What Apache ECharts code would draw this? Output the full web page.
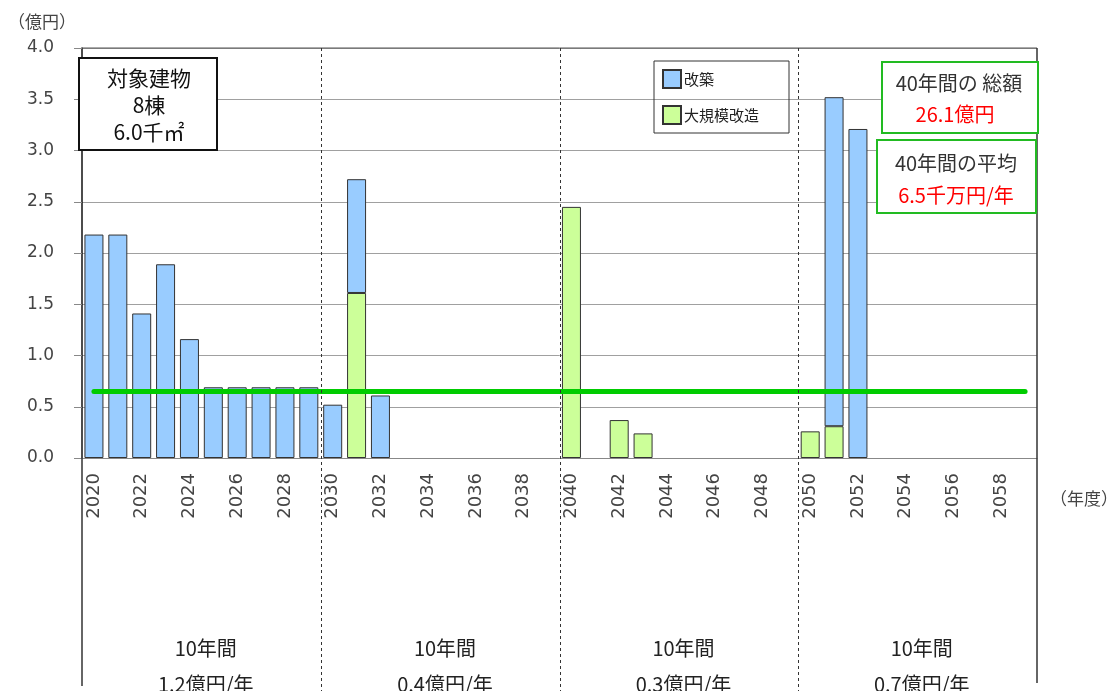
<!DOCTYPE html>
<html>
<head>
<meta charset="utf-8">
<script src="https://cdn.jsdelivr.net/npm/echarts@6/dist/echarts.min.js"></script>
<style>
  html, body { margin: 0; padding: 0; background: #fff; }
  #chart { width: 1113px; height: 691px; }
</style>
</head>
<body>
<div id="chart"></div>
<script>
// 年度 2020〜2059
const years = Array.from({ length: 40 }, (_, i) => String(2020 + i))

// 改築（億円）
const kaichiku = [
  2.18, 2.18, 1.41, 1.89, 1.16, 0.69, 0.69, 0.69, 0.69, 0.69,
  0.52, 1.11, 0.61, null, null, null, null, null, null, null,
  null, null, null, null, null, null, null, null, null, null,
  null, 3.21, 3.21, null, null, null, null, null, null, null
]

// 大規模改造（億円）
const daikibo = [
  null, null, null, null, null, null, null, null, null, null,
  null, 1.61, null, null, null, null, null, null, null, null,
  2.45, null, 0.37, 0.24, null, null, null, null, null, null,
  0.26, 0.31, null, null, null, null, null, null, null, null
]

// 40年間の平均（億円/年）
const average = 0.65

// 10年ごとの平均
const decadeLabels = ['1.2億円/年', '0.4億円/年', '0.3億円/年', '0.7億円/年']

const jp = '"Noto Sans CJK JP", sans-serif'
const num = '"DejaVu Sans", sans-serif'

const chart = echarts.init(document.getElementById('chart'))

const option = {
  animation: false,
  grid: { left: 82, right: 76, top: 48, bottom: 233 },
  legend: {
    data: ['改築', '大規模改造'],
    orient: 'vertical',
    left: 654,
    top: 61,
    itemWidth: 18,
    itemHeight: 18,
    itemGap: 16,
    padding: [8, 30, 8, 8],
    borderColor: '#333',
    borderWidth: 1,
    icon: 'rect',
    selectedMode: false,
    textStyle: { fontFamily: jp, fontSize: 15, color: '#222', padding: [0, 0, 0, -2] }
  },
  xAxis: {
    type: 'category',
    data: years,
    axisLine: { lineStyle: { color: '#888' } },
    axisTick: { interval: 0, length: 5, lineStyle: { color: '#888' } },
    axisLabel: {
      interval: 1,
      rotate: 90,
      margin: 15,
      fontFamily: num,
      fontSize: 18,
      color: '#444'
    }
  },
  yAxis: {
    type: 'value',
    min: 0,
    max: 4,
    interval: 0.5,
    axisLine: { show: true, lineStyle: { color: '#111', width: 1.5 } },
    axisTick: { show: true, length: 8, lineStyle: { color: '#888' } },
    splitLine: { lineStyle: { color: '#a0a0a0' } },
    axisLabel: {
      margin: 28,
      fontFamily: num,
      fontSize: 17,
      color: '#444',
      formatter: v => v.toFixed(1)
    }
  },
  series: [
    {
      name: '大規模改造',
      type: 'bar',
      stack: 'cost',
      barWidth: 19,
      data: daikibo,
      itemStyle: { color: '#ccff99', borderColor: '#333', borderWidth: 1 }
    },
    {
      name: '改築',
      type: 'bar',
      stack: 'cost',
      barWidth: 19,
      data: kaichiku,
      itemStyle: { color: '#99ccff', borderColor: '#333', borderWidth: 1 },
      markLine: {
        silent: true,
        symbol: 'none',
        label: { show: false },
        lineStyle: { color: '#00cc00', width: 5, type: 'solid', cap: 'round' },
        data: [[
          { coord: [years[0], average] },
          { coord: [years[years.length - 1], average] }
        ]]
      }
    }
  ]
}

chart.setOption(option)

// 枠線・区切り線・注記
const px = c => chart.convertToPixel({ xAxisIndex: 0 }, c)
const plotTop = chart.convertToPixel({ yAxisIndex: 0 }, 4)
const plotLeft = 82
const plotRight = 1037

const graphics = []

// 上端・右端・左端の延長
graphics.push({ type: 'line', shape: { x1: plotLeft, y1: plotTop, x2: plotRight, y2: plotTop }, style: { stroke: '#555', lineWidth: 1 }, z: 5 })
graphics.push({ type: 'line', shape: { x1: plotRight, y1: plotTop, x2: plotRight, y2: 683 }, style: { stroke: '#333', lineWidth: 1.5 }, z: 5 })
graphics.push({ type: 'line', shape: { x1: plotLeft, y1: 458, x2: plotLeft, y2: 686 }, style: { stroke: '#333', lineWidth: 1.5 }, z: 5 })

// 10年ごとの点線
const bounds = [plotLeft]
;[10, 20, 30].forEach(i => {
  const x = Math.round((px(years[i - 1]) + px(years[i])) / 2) + 0.5
  bounds.push(x)
  graphics.push({
    type: 'line',
    shape: { x1: x, y1: plotTop, x2: x, y2: 691 },
    style: { stroke: '#333', lineWidth: 1, lineDash: [3, 3] },
    z: 5
  })
})
bounds.push(plotRight)

decadeLabels.forEach((t, i) => {
  const cx = (bounds[i] + bounds[i + 1]) / 2 + 4
  graphics.push({ type: 'text', x: cx, y: 648, style: { text: '10年間', fontFamily: jp, fontSize: 20, fill: '#222', align: 'center', verticalAlign: 'middle' } })
  graphics.push({ type: 'text', x: cx, y: 684, style: { text: t, fontFamily: jp, fontSize: 20, fill: '#222', align: 'center', verticalAlign: 'middle' } })
})

// 軸名
graphics.push({ type: 'text', x: 8, y: 22, style: { text: '（億円）', fontFamily: jp, fontSize: 17, fill: '#444', verticalAlign: 'middle' } })
graphics.push({ type: 'text', x: 1050, y: 499, style: { text: '（年度）', fontFamily: jp, fontSize: 17, fill: '#444', verticalAlign: 'middle' } })

// 対象建物
graphics.push({ type: 'rect', shape: { x: 79, y: 58, width: 138, height: 92 }, style: { fill: '#fff', stroke: '#111', lineWidth: 2 }, z: 10 })
graphics.push({ type: 'text', x: 149, y: 105, z: 11, style: { text: '対象建物\n8棟\n6.0千㎡', fontFamily: jp, fontSize: 21, lineHeight: 27, fill: '#111', align: 'center', verticalAlign: 'middle' } })

// 40年間の総額
graphics.push({ type: 'rect', shape: { x: 882, y: 62, width: 156, height: 71 }, style: { fill: '#fff', stroke: '#22bb22', lineWidth: 2 }, z: 10 })
graphics.push({ type: 'text', x: 959, y: 83, z: 11, style: { text: '40年間の 総額', fontFamily: jp, fontSize: 20, fill: '#333', align: 'center', verticalAlign: 'middle' } })
graphics.push({ type: 'text', x: 955, y: 114, z: 11, style: { text: '26.1億円', fontFamily: jp, fontSize: 20, fill: '#ff0000', align: 'center', verticalAlign: 'middle' } })

// 40年間の平均
graphics.push({ type: 'rect', shape: { x: 877, y: 140, width: 159, height: 73 }, style: { fill: '#fff', stroke: '#22bb22', lineWidth: 2 }, z: 10 })
graphics.push({ type: 'text', x: 956, y: 163, z: 11, style: { text: '40年間の平均', fontFamily: jp, fontSize: 20, fill: '#333', align: 'center', verticalAlign: 'middle' } })
graphics.push({ type: 'text', x: 956, y: 195, z: 11, style: { text: '6.5千万円/年', fontFamily: jp, fontSize: 20, fill: '#ff0000', align: 'center', verticalAlign: 'middle' } })

chart.setOption({ graphic: graphics })
</script>
</body>
</html>
